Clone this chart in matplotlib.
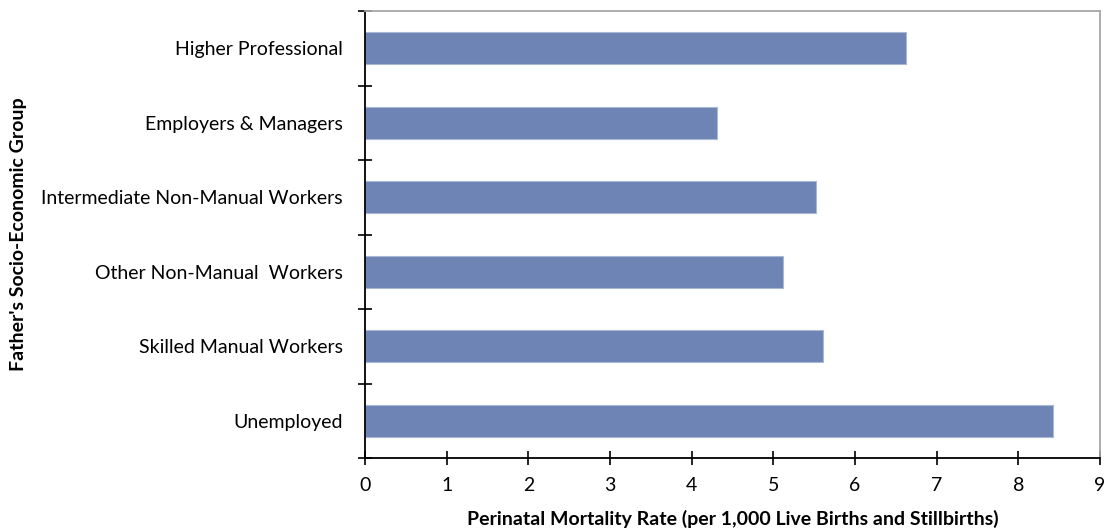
import matplotlib
matplotlib.use("Agg")
import matplotlib.pyplot as plt
import numpy as np

categories = ["Higher Professional", "Employers & Managers", "Intermediate Non-Manual Workers",
              "Other Non-Manual  Workers", "Skilled Manual Workers", "Unemployed"]
values = [6.62, 4.31, 5.52, 5.12, 5.61, 8.42]
xticks = list(range(0, 10))

plt.rcParams['font.family'] = ['Lato', 'DejaVu Sans']

fig = plt.figure(figsize=(11.10, 5.31), dpi=100)
ax = fig.add_axes([365/1110, 1-458/531, (1100-365)/1110, (458-11)/531])

y = np.arange(len(categories))
ax.barh(y, values, height=0.43, color="#6E84B4", edgecolor="#A9B8D6", linewidth=0.8, zorder=2)
ax.set_ylim(len(categories)-0.5, -0.5)
ax.set_xlim(0, 9)
ax.set_xticks(xticks)
ax.set_xticklabels([str(t) for t in xticks], fontsize=14)
ax.set_yticks(y)
ax.set_yticklabels(categories, fontsize=14)
ax.set_yticks(np.arange(-0.5, len(categories)), minor=True)
ax.tick_params(axis='y', which='major', length=0, pad=16)
ax.tick_params(axis='y', which='minor', length=10, direction='inout', width=1.2, color='black')
ax.tick_params(axis='x', which='major', length=10, direction='inout', width=1.2, pad=9)

for s in ['left', 'bottom']:
    ax.spines[s].set_color('black')
    ax.spines[s].set_linewidth(1.3)
for s in ['top', 'right']:
    ax.spines[s].set_color('#A6A6A6')
    ax.spines[s].set_linewidth(1.3)

ax.set_xlabel("Perinatal Mortality Rate (per 1,000 Live Births and Stillbirths)", fontsize=14,
              fontweight='bold', labelpad=11)
fig.text(19/1110, 1-234/531, "Father's Socio-Economic Group", rotation=90, fontsize=14,
         fontweight='bold', ha='center', va='center')

fig.savefig("out.png", dpi=100)
